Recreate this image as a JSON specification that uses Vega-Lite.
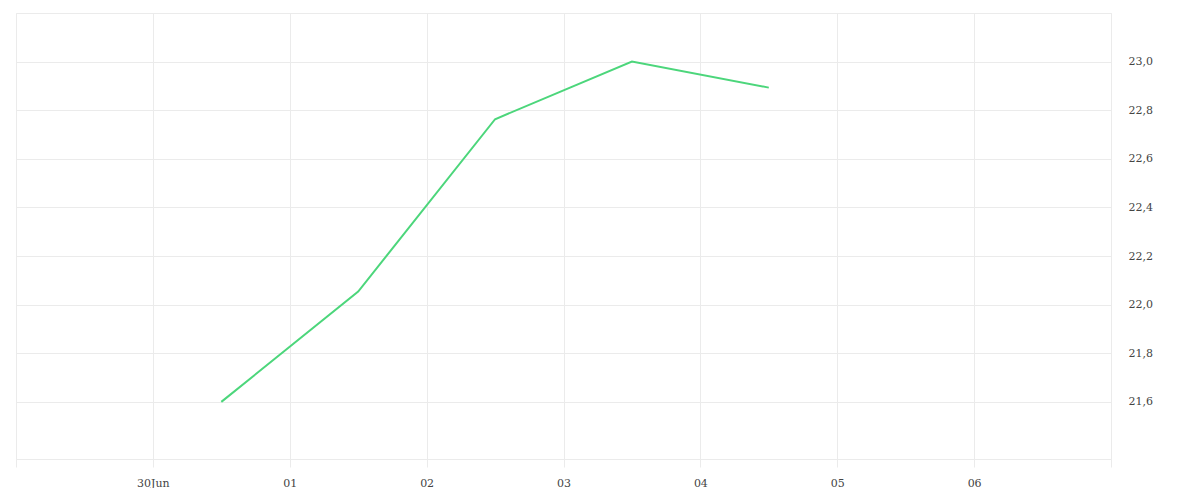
{
  "$schema": "https://vega.github.io/schema/vega-lite/v6.json",
  "width": 1095,
  "height": 446,
  "padding": {"left": 15, "top": 13, "right": 0, "bottom": 0},
  "background": "white",
  "config": {
    "view": {"stroke": "#ebebeb", "strokeWidth": 1},
    "axis": {"labelFont": "DejaVu Serif", "labelFontSize": 11, "labelColor": "#444", "gridColor": "#ebebeb", "gridWidth": 1}
  },
  "data": {
    "values": [
      {"t": "2024-06-30T12:00:00Z", "v": 21.6},
      {"t": "2024-07-01T12:00:00Z", "v": 22.054},
      {"t": "2024-07-02T12:00:00Z", "v": 22.763},
      {"t": "2024-07-03T12:00:00Z", "v": 23.0},
      {"t": "2024-07-04T12:00:00Z", "v": 22.893}
    ]
  },
  "mark": {"type": "line", "color": "#4cd67b", "strokeWidth": 2},
  "encoding": {
    "x": {
      "field": "t", "type": "temporal",
      "scale": {"type": "utc", "domain": [{"year": 2024, "month": 6, "date": 29, "utc": true}, {"year": 2024, "month": 7, "date": 7, "utc": true}]},
      "axis": {
        "title": null, "domain": false, "grid": true, "ticks": true, "tickColor": "#ebebeb", "tickSize": 8,
        "labelPadding": 10,
        "values": [
          {"year": 2024, "month": 6, "date": 29, "utc": true},
          {"year": 2024, "month": 6, "date": 30, "utc": true},
          {"year": 2024, "month": 7, "date": 1, "utc": true},
          {"year": 2024, "month": 7, "date": 2, "utc": true},
          {"year": 2024, "month": 7, "date": 3, "utc": true},
          {"year": 2024, "month": 7, "date": 4, "utc": true},
          {"year": 2024, "month": 7, "date": 5, "utc": true},
          {"year": 2024, "month": 7, "date": 6, "utc": true},
          {"year": 2024, "month": 7, "date": 7, "utc": true}
        ],
        "labelExpr": "utcdate(datum.value) == 29 || utcdate(datum.value) == 7 ? '' : (utcdate(datum.value) == 30 ? '30Jun' : utcFormat(datum.value, '%d'))"
      }
    },
    "y": {
      "field": "v", "type": "quantitative",
      "scale": {"domain": [21.365, 23.2], "zero": false, "nice": false},
      "axis": {
        "title": null, "orient": "right", "domain": false, "ticks": false, "labelPadding": 17,
        "values": [21.6, 21.8, 22.0, 22.2, 22.4, 22.6, 22.8, 23.0],
        "labelExpr": "replace(format(datum.value, '.1f'), '.', ',')"
      }
    }
  }
}
